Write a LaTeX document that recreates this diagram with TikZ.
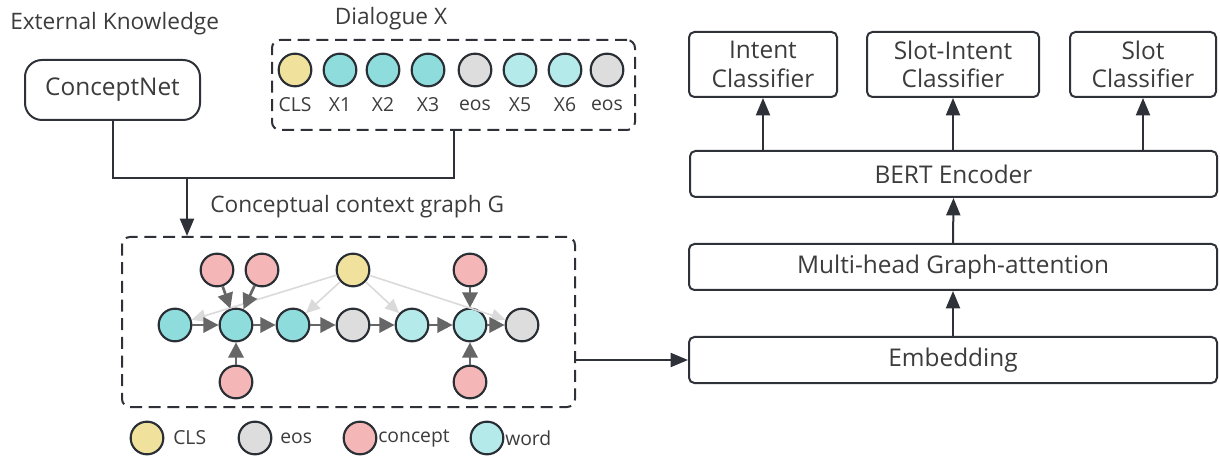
\documentclass[tikz,border=0pt]{standalone}
\usepackage{fontspec}
\setmainfont{Open Sans}
\usetikzlibrary{arrows.meta,calc}

\definecolor{textc}{HTML}{3C3C3C}
\definecolor{edgec}{HTML}{2E3238}
\definecolor{nodec}{HTML}{2A2F35}
\definecolor{clsc}{HTML}{F0E29C}
\definecolor{wordc}{HTML}{8EDCDC}
\definecolor{wordl}{HTML}{B5EAEA}
\definecolor{eosc}{HTML}{DDDDDD}
\definecolor{conc}{HTML}{F4B6B6}
\definecolor{gedgec}{HTML}{666666}
\definecolor{lightc}{HTML}{DADADA}

\begin{document}
\begin{tikzpicture}[x=0.75pt,y=-0.75pt,
  headfont/.style={font=\fontsize{17}{20}\selectfont},
  boxfont/.style={font=\fontsize{18.3}{21.5}\selectfont},
  smallfont/.style={font=\fontsize{14.5}{17}\selectfont},
  txt/.style={headfont, text=textc, inner sep=0pt},
  lbl/.style={smallfont, text=textc, inner sep=0pt},
  box/.style={draw=edgec, line width=1.5pt, rounded corners=4pt, fill=white,
    text=textc, boxfont, align=center, inner sep=0pt},
  dbox/.style={draw=edgec, line width=1.5pt, dash pattern=on 9pt off 5pt,
    rounded corners=6pt, inner sep=0pt},
  tok/.style={circle, draw=nodec, line width=1.6pt, minimum size=24.5pt, inner sep=0pt},
  conn/.style={draw=edgec, line width=1.5pt},
  arr/.style={conn, -{Triangle[length=13pt,width=10.5pt]}},
  gedge/.style={draw=gedgec, line width=2pt, -{Triangle[length=11.5pt,width=11.5pt]}},
  ledge/.style={draw=lightc, line width=1.2pt, -{Triangle[length=10.5pt,width=9.5pt]}}]

\useasboundingbox (0,0) rectangle (1220,459);

% ---------- left: knowledge source and dialogue ----------
\node[txt, anchor=base west] (extk) at (10,30) {External Knowledge};
\node[box, rounded corners=12.75pt, minimum width=131.25pt, minimum height=45pt]
  (cnet) at (112.5,90) {ConceptNet};

\node[txt, anchor=base] (dialt) at (391,25) {Dialogue X};
\node[dbox, minimum width=272.25pt, minimum height=67.5pt] (dial) at (453.5,85) {};

\foreach \x/\c/\t [count=\i] in {295/clsc/CLS, 340/wordc/X1, 383/wordc/X2, 428/wordc/X3,
    475/eosc/eos, 520/wordl/X5, 565/wordl/X6, 607/eosc/eos} {
  \node[tok, fill=\c] (d\i) at (\x,70) {};
  \node[lbl] (dl\i) at (\x,105) {\t};
}

% ---------- conceptual context graph ----------
\node[txt, anchor=base west] (gtitle) at (210,213) {Conceptual context graph G};
\node[dbox, minimum width=339.75pt, minimum height=127.5pt] (gbox) at (348.5,322) {};

\coordinate (join) at (187,178);
\draw[conn] (cnet.south) |- (join);
\draw[conn] (dial.south) |- (join);
\draw[arr] (join) -- (join |- gbox.north);

% word row
\node[tok, fill=wordc] (g1) at (175,325) {};
\node[tok, fill=wordc] (g2) at (236,325) {};
\node[tok, fill=wordc] (g3) at (293,325) {};
\node[tok, fill=eosc]  (g4) at (353,325) {};
\node[tok, fill=wordl] (g5) at (412,325) {};
\node[tok, fill=wordl] (g6) at (470,325) {};
\node[tok, fill=eosc]  (g7) at (522,325) {};
% concepts and CLS
\node[tok, fill=conc] (c1) at (217,270) {};
\node[tok, fill=conc] (c2) at (262,270) {};
\node[tok, fill=clsc] (cls) at (353,270) {};
\node[tok, fill=conc] (c3) at (470,270) {};
\node[tok, fill=conc] (c4) at (236,382) {};
\node[tok, fill=conc] (c5) at (470,382) {};

% CLS links
\draw[ledge] (cls) -- (g1);
\draw[ledge] (cls) -- (g3);
\draw[ledge] (cls) -- (g5);
\draw[ledge] (cls) -- (g7);
% sequence links
\draw[gedge] (g1) -- (g2);
\draw[gedge] (g2) -- (g3);
\draw[gedge] (g3) -- (g4);
\draw[gedge] (g4) -- (g5);
\draw[gedge] (g5) -- (g6);
\draw[gedge] (g6) -- (g7);
% concept links
\draw[gedge] (c1) -- (g2);
\draw[gedge] (c2) -- (g2);
\draw[gedge] (c4) -- (g2);
\draw[gedge] (c3) -- (g6);
\draw[gedge] (c5) -- (g6);

% legend
\node[tok, fill=clsc]  (k1) at (147,438) {};
\node[lbl, anchor=west] (kl1) at (173,438) {CLS};
\node[tok, fill=eosc]  (k2) at (255,438) {};
\node[lbl, anchor=west] (kl2) at (280,438) {eos};
\node[tok, fill=conc]  (k3) at (360,438) {};
\node[lbl, anchor=west] (kl3) at (378,438) {concept};
\node[tok, fill=wordl] (k4) at (487,438) {};
\node[lbl, anchor=west] (kl4) at (505,438) {word};

% ---------- right: model stack ----------
\node[box, minimum width=111pt, minimum height=48.75pt] (intent) at (763,64.5)
  {Intent\\Classifier};
\node[box, minimum width=129pt, minimum height=48.75pt] (slotint) at (953,64.5)
  {Slot-Intent\\Classifier};
\node[box, minimum width=109.5pt, minimum height=48.75pt] (slot) at (1143,64.5)
  {Slot\\Classifier};
\node[box, minimum width=395.25pt, minimum height=34.5pt] (bert) at (953.5,174) {BERT Encoder};
\node[box, minimum width=396pt, minimum height=34.5pt] (mha) at (953,267) {Multi-head Graph-attention};
\node[box, minimum width=396pt, minimum height=34.5pt] (emb) at (953,360) {Embedding};

\draw[arr] (gbox.east |- emb.west) -- (emb.west);
\draw[arr] (emb.north) -- (mha.south);
\draw[arr] (mha.north) -- (bert.south);
\draw[arr] (bert.north -| intent.south) -- (intent.south);
\draw[arr] (bert.north -| slotint.south) -- (slotint.south);
\draw[arr] (bert.north -| slot.south) -- (slot.south);

\end{tikzpicture}
\end{document}
